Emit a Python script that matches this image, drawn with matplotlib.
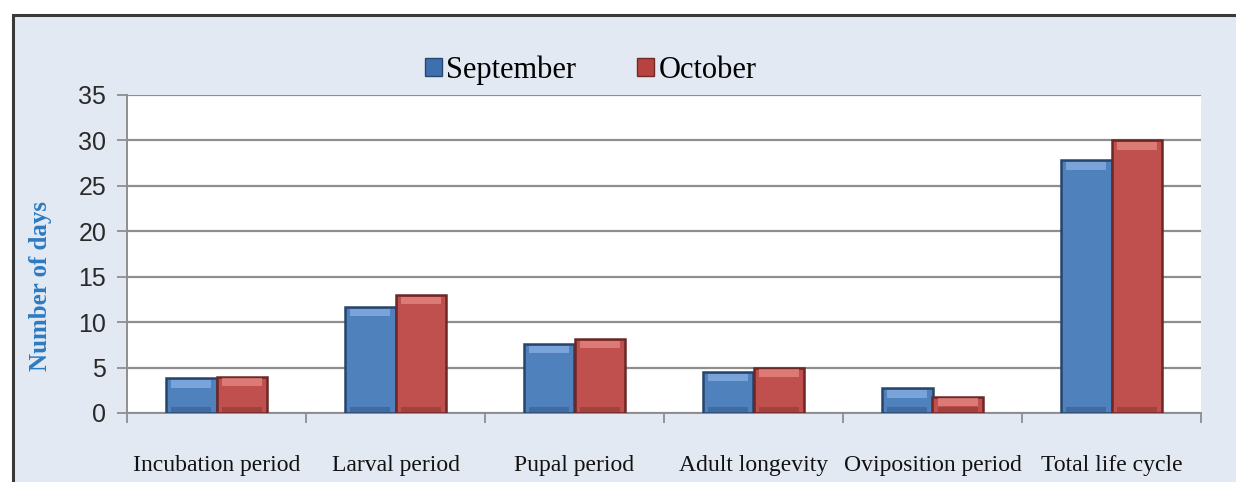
import matplotlib.pyplot as plt
import numpy as np
from matplotlib.patches import Rectangle

categories = ['Incubation period', 'Larval period', 'Pupal period',
              'Adult longevity', 'Oviposition period', 'Total life cycle']
september = [3.8, 11.7, 7.6, 4.5, 2.7, 27.8]
october = [4.0, 13.0, 8.1, 5.0, 1.8, 30.0]
series_names = ['September', 'October']
yticks = [0, 5, 10, 15, 20, 25, 30, 35]

serif = ['Liberation Serif', 'DejaVu Serif']

fig = plt.figure(figsize=(12.36, 4.82), dpi=100)
fig.patch.set_facecolor('white')

# light blue chart area with a dark frame on top and left
fig.patches.append(Rectangle((13/1236, -0.1), 1.1, 1 - 15/482 + 0.1,
                             transform=fig.transFigure, facecolor='#E3E9F3',
                             edgecolor='#3a3a3a', linewidth=2.2, zorder=-10))

ax = fig.add_axes([127/1236, 1 - 413/482, 1074/1236, 318/482])
ax.set_facecolor('white')

x = np.arange(len(categories))
w = 0.28

def bevel_bars(xpos, vals, main, light, dark):
    vals = np.array(vals)
    ax.bar(xpos, vals, w, color=main, edgecolor=dark, linewidth=1.8, zorder=3)
    # soft bevel: lighter strip near the top, darker strip at the bottom
    ax.bar(xpos, np.full(len(vals), 0.8), w * 0.8, bottom=vals - 1.0,
           color=light, alpha=0.7, linewidth=0, zorder=4)
    ax.bar(xpos, np.full(len(vals), 0.5), w * 0.8, bottom=0.15,
           color=dark, alpha=0.35, linewidth=0, zorder=4)

bevel_bars(x - w/2, september, '#4F81BD', '#8DB4E6', '#27446B')
bevel_bars(x + w/2, october, '#C0504D', '#E88C88', '#6B2826')

ax.set_xlim(-0.5, len(categories) - 0.5)
ax.set_ylim(0, 35)
ax.set_yticks(yticks)
ax.set_yticklabels([str(t) for t in yticks], fontsize=18,
                   family=['Liberation Sans Narrow', 'Liberation Sans', 'DejaVu Sans'],
                   color='#2a2a2a')
ax.yaxis.grid(True, color='#8E8E8E', linewidth=1.6, zorder=1)
ax.set_axisbelow(True)

ax.set_xticks(x)
ax.set_xticklabels(categories, fontsize=17, family=serif, color='#111111')
ax.set_xticks(np.arange(-0.5, len(categories)), minor=True)
ax.tick_params(axis='x', which='major', length=0, pad=30)
ax.tick_params(axis='x', which='minor', length=7, width=1.3, color='#8E8E8E',
               direction='out')
ax.tick_params(axis='y', length=7, width=1.3, color='#8E8E8E', pad=8)

for side in ['top', 'right']:
    ax.spines[side].set_visible(False)
for side in ['left', 'bottom']:
    ax.spines[side].set_color('#8E8E8E')
    ax.spines[side].set_linewidth(1.4)

ax.set_ylabel('Number of days', fontsize=18, fontweight='bold', family=serif,
              color='#2C7BC0')
ax.yaxis.set_label_coords(-0.070, 0.40)

handles = [Rectangle((0, 0), 1, 1, facecolor='#3E6FAE', edgecolor='#29476F'),
           Rectangle((0, 0), 1, 1, facecolor='#B8423F', edgecolor='#702A28')]
fig.legend(handles, series_names, loc='center', bbox_to_anchor=(0.478, 1 - 70/482),
           ncol=2, frameon=False, prop={'family': serif, 'size': 22},
           handlelength=0.55, handleheight=0.55, handletextpad=0.15,
           columnspacing=2.0)

fig.savefig('out.png', dpi=100)
